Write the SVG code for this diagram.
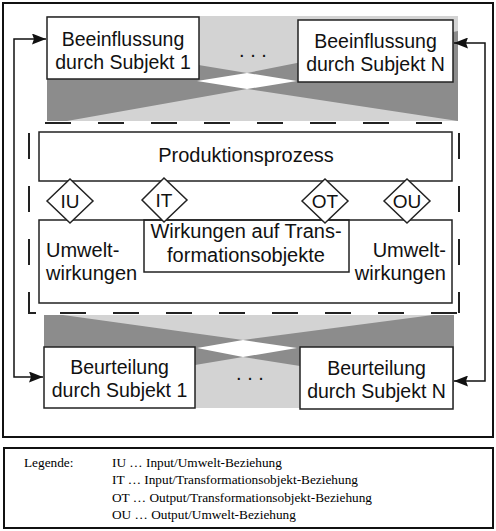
<svg xmlns="http://www.w3.org/2000/svg" width="496" height="531" viewBox="0 0 496 531">
<style>
.frame{fill:none;stroke:#111;stroke-width:2}
.box{fill:#fff;stroke:#222;stroke-width:1.5}
.obox{fill:none;stroke:#222;stroke-width:1.5}
.dash{fill:none;stroke:#222;stroke-width:2;stroke-dasharray:26 27}
.light{fill:#d3d3d3}
.dark{fill:#8c8c8c}
.white{fill:#fff}
.t{font-family:"Liberation Sans",Arial,Helvetica,sans-serif;font-size:20px;fill:#111}
.tb{font-family:"Liberation Sans",Arial,Helvetica,sans-serif;font-size:19.5px;fill:#111;text-anchor:middle}
.td{font-family:"Liberation Sans",Arial,Helvetica,sans-serif;font-size:19px;fill:#111;text-anchor:middle}
.lg{font-family:"Liberation Serif","Times New Roman",serif;font-size:13.3px;fill:#000}
.conn{fill:none;stroke:#111;stroke-width:1.5}
</style>
<defs>
<marker id="ah" viewBox="0 0 14 11" refX="14" refY="5.5" markerWidth="14" markerHeight="11" markerUnits="userSpaceOnUse" orient="auto-start-reverse">
<path d="M0,0 L14,5.5 L0,11 L2,5.5 z" fill="#111"/>
</marker>
</defs>
<rect class="frame" x="3" y="3" width="490" height="434"/>

<g id="band-top">
<rect class="light" x="47" y="16" width="411" height="105"/>
<polygon class="dark" points="47,40 247,73 458,31 458,121 247,89 67,121 47,121"/>
<polygon class="white" points="197,81 247,73 297,81 247,89"/>
<text class="t" x="253" y="57" text-anchor="middle">. . .</text>
</g>
<g id="band-bottom">
<rect class="light" x="44" y="315" width="410" height="93"/>
<polygon class="dark" points="44,315 63,315 243,340 433,315 454,315 454,390 300,366 243,357 195,365 44,390"/>
<polygon class="white" points="197,348 243,340 297,348 243,357"/>
<text class="t" x="250" y="380" text-anchor="middle">. . .</text>
</g>

<g id="system-boundary">
<path class="dash" d="M45,123 H459"/>
<path class="dash" d="M29,133 V313"/>
<path class="dash" d="M459,133 V313"/>
<path class="dash" d="M60,313 H459"/>
<path d="M29,306 V313 H36" fill="none" stroke="#222" stroke-width="2"/>
</g>

<g id="beeinflussung-1">
<rect class="box" x="47" y="17" width="152" height="62"/>
<text class="tb" x="123" y="46">Beeinflussung</text>
<text class="tb" x="123" y="69">durch Subjekt 1</text>
</g>
<g id="beeinflussung-n">
<rect class="box" x="298" y="20" width="155" height="62"/>
<text class="tb" x="375.5" y="48">Beeinflussung</text>
<text class="tb" x="375.5" y="71">durch Subjekt N</text>
</g>

<g id="produktionsprozess">
<rect class="box" x="39" y="132" width="413" height="49"/>
<text class="t" x="246" y="162" text-anchor="middle">Produktionsprozess</text>
</g>

<g id="wirkungen">
<rect class="obox" x="39" y="220" width="413" height="83"/>
<text class="t" x="46" y="257">Umwelt-</text>
<text class="t" x="46" y="280">wirkungen</text>
<text class="t" x="446" y="257" text-anchor="end">Umwelt-</text>
<text class="t" x="446" y="280" text-anchor="end">wirkungen</text>
</g>
<g id="transformationsobjekte">
<rect class="obox" x="144" y="220" width="205" height="52"/>
<text class="t" x="246" y="238" text-anchor="middle">Wirkungen auf Trans-</text>
<text class="t" x="246" y="262" text-anchor="middle">formationsobjekte</text>
</g>

<g id="iu">
<polygon class="box" points="47,201 70,179 93,201 70,223"/>
<text class="td" x="70" y="208">IU</text>
</g>
<g id="it">
<polygon class="box" points="142,200 164,178 187,200 164,222"/>
<text class="td" x="164" y="207">IT</text>
</g>
<g id="ot">
<polygon class="box" points="302,201 325,179 348,201 325,223"/>
<text class="td" x="325" y="208">OT</text>
</g>
<g id="ou">
<polygon class="box" points="384,201 407,179 430,201 407,223"/>
<text class="td" x="407" y="208">OU</text>
</g>

<g id="beurteilung-1">
<rect class="box" x="44" y="347" width="151" height="61"/>
<text class="tb" x="119.5" y="374">Beurteilung</text>
<text class="tb" x="119.5" y="397">durch Subjekt 1</text>
</g>
<g id="beurteilung-n">
<rect class="box" x="300" y="347" width="153" height="62"/>
<text class="tb" x="376.5" y="375">Beurteilung</text>
<text class="tb" x="376.5" y="398">durch Subjekt N</text>
</g>

<g id="connectors">
<path class="conn" d="M46,39 H14 V377 H43" marker-start="url(#ah)" marker-end="url(#ah)"/>
<path class="conn" d="M454,43 H485 V381 H454" marker-start="url(#ah)" marker-end="url(#ah)"/>
</g>

<g id="legende">
<rect class="frame" x="4" y="448" width="489" height="80"/>
<text class="lg" x="24" y="467">Legende:</text>
<text class="lg" x="112" y="467">IU … Input/Umwelt-Beziehung</text>
<text class="lg" x="112" y="484">IT … Input/Transformationsobjekt-Beziehung</text>
<text class="lg" x="112" y="502">OT … Output/Transformationsobjekt-Beziehung</text>
<text class="lg" x="112" y="519">OU … Output/Umwelt-Beziehung</text>
</g>
</svg>
